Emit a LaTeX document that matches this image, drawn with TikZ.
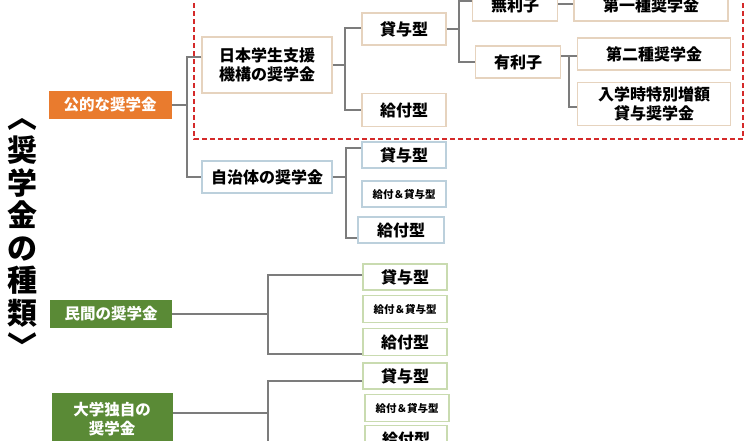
\documentclass[tikz,border=0pt]{standalone}
\usepackage{fontspec}
\setmainfont{Noto Sans CJK JP}
\definecolor{kouteki}{HTML}{E97B2E}
\definecolor{minkan}{HTML}{5A8A36}
\definecolor{tanline}{HTML}{E6D3BE}
\definecolor{blueline}{HTML}{BCD0DC}
\definecolor{greenline}{HTML}{C9DBB0}
\definecolor{linkgray}{HTML}{7C7C7C}
\definecolor{dashred}{HTML}{D42A2A}

\begin{document}
\begin{tikzpicture}[x=1pt,y=-1pt,
  kind/.style={draw=none, text=white, font=\fontsize{15.5}{19}\selectfont\bfseries,
    align=center, inner sep=0pt},
  item/.style={draw, line width=1.2pt, fill=white, font=\fontsize{16}{19}\selectfont\bfseries,
    align=center, inner sep=0pt},
  small/.style={font=\fontsize{10.5}{12}\selectfont\bfseries},
  link/.style={line width=2.4pt, linkgray}]

\useasboundingbox (0,0) rectangle (745,440);
\clip (0,0) rectangle (745,440);

% title
\node[align=center, font=\fontsize{30}{32.6}\selectfont\bfseries] (title) at (22,238)
  {︿\\奨\\学\\金\\の\\種\\類\\﹀};

% red dashed frame
\draw[dashred, line width=1.5pt, dash pattern=on 5pt off 3pt] (194,-5) rectangle (743,139);

% left column
\node[kind, fill=kouteki, minimum width=123, minimum height=28] (koteki) at (110,105) {公的な奨学金};
\node[kind, fill=minkan, minimum width=122, minimum height=28] (minkan) at (111,314) {民間の奨学金};
\node[kind, fill=minkan, minimum width=121, minimum height=52] (daigaku) at (112,419) {大学独自の\\奨学金};

% second column
\node[item, draw=tanline, minimum width=130, minimum height=56] (jasso) at (267,65) {日本学生支援\\機構の奨学金};
\node[item, draw=blueline, minimum width=130, minimum height=32] (jichitai) at (267,177) {自治体の奨学金};

% JASSO
\node[item, draw=tanline, minimum width=84, minimum height=32] (jTaiyo) at (404,29) {貸与型};
\node[item, draw=tanline, minimum width=84, minimum height=33] (jKyufu) at (404,110) {給付型};
\node[item, draw=tanline, minimum width=85, minimum height=32] (muri) at (515,5) {無利子};
\node[item, draw=tanline, minimum width=85, minimum height=32] (yuri) at (518,62) {有利子};
\node[item, draw=tanline, minimum width=154, minimum height=32] (dai1) at (651,5) {第一種奨学金};
\node[item, draw=tanline, minimum width=153, minimum height=32] (dai2) at (654,54) {第二種奨学金};
\node[item, draw=tanline, minimum width=153, minimum height=43,
  font=\fontsize{16}{18.5}\selectfont\bfseries] (nyugaku) at (654,104) {入学時特別増額\\貸与奨学金};

% local government
\node[item, draw=blueline, minimum width=84, minimum height=26] (cTaiyo) at (404,155) {貸与型};
\node[item, small, draw=blueline, minimum width=84, minimum height=26] (cBoth) at (404,194) {給付＆貸与型};
\node[item, draw=blueline, minimum width=86, minimum height=26] (cKyufu) at (401,230) {給付型};

% private
\node[item, draw=greenline, minimum width=84, minimum height=26] (mTaiyo) at (405,277) {貸与型};
\node[item, small, draw=greenline, minimum width=84, minimum height=27] (mBoth) at (405,309) {給付＆貸与型};
\node[item, draw=greenline, minimum width=84, minimum height=27] (mKyufu) at (405,342) {給付型};

% university
\node[item, draw=greenline, minimum width=84, minimum height=26] (dTaiyo) at (405,376) {貸与型};
\node[item, small, draw=greenline, minimum width=84, minimum height=27] (dBoth) at (407,408) {給付＆貸与型};
\node[item, draw=greenline, minimum width=82, minimum height=27] (dKyufu) at (406,439) {給付型};

% branch points
\coordinate (b1) at (187,105);
\coordinate (b2) at (345,65);
\coordinate (b3) at (459,29);
\coordinate (b4) at (569,56);
\coordinate (b5) at (346,177);
\coordinate (b6) at (268,314);
\coordinate (b7) at (268,413);

% links
\draw[link] (koteki.east) -- (b1);
\draw[link] ([yshift=8]jasso.west) -| (b1) |- (jichitai.west);
\draw[link] (jasso.east) -- (b2);
\draw[link] ([yshift=1]jTaiyo.west) -| (b2) |- (jKyufu.west);
\draw[link] (jTaiyo.east) -- (b3);
\draw[link] ([yshift=4]muri.west) -| (b3) |- (yuri.west);
\draw[link] ([yshift=1]muri.east) -- ([yshift=1]dai1.west);
\draw[link] ([yshift=6]yuri.east) -- ([yshift=-2]dai2.west);
\draw[link] (b4) |- ([yshift=-3]nyugaku.west);
\draw[link] (jichitai.east) -- (b5);
\draw[link] ([yshift=7]cTaiyo.west) -| (b5) |- ([yshift=-8]cKyufu.west);
\draw[link] (minkan.east) -- (b6);
\draw[link] ([yshift=2]mTaiyo.west) -| (b6) |- ([yshift=-12]mKyufu.west);
\draw[link] ([yshift=6]daigaku.east) -- (b7);
\draw[link] ([yshift=-5]dTaiyo.west) -| (b7) |- ([yshift=-12]dKyufu.west);
\end{tikzpicture}
\end{document}
